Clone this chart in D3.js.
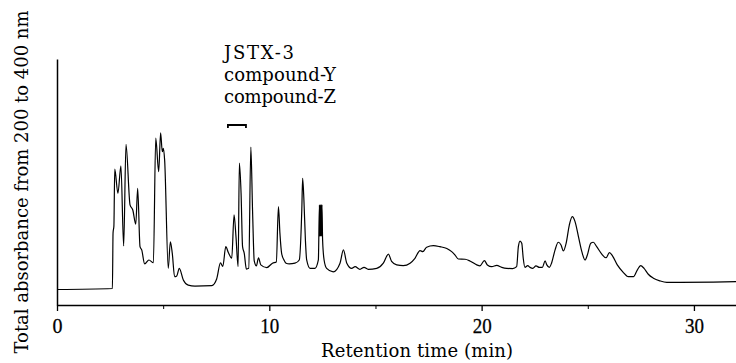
<!DOCTYPE html>
<html>
<head>
<meta charset="utf-8">
<script src="https://cdn.jsdelivr.net/npm/d3@7"></script>
<style>
  html, body { margin: 0; padding: 0; background: #fff; }
  svg { display: block; }
</style>
</head>
<body>
<svg id="chart" width="736" height="363"></svg>
<script>
// Retention time (min)
const times = [
  0, 2.61, 2.64, 2.68, 2.72, 2.87, 3.01, 3.14, 3.25, 3.44, 3.57, 3.71, 3.80, 3.91, 3.99,
  4.13, 4.33, 4.54, 4.65, 4.79, 4.88, 4.96, 5.01, 5.07, 5.24, 5.34, 5.43, 5.54, 5.64, 5.76,
  5.95, 6.18, 6.50, 7.29, 7.52, 7.70, 7.81, 7.95, 8.07, 8.23, 8.34, 8.43, 8.53, 8.59, 8.67,
  8.74, 8.82, 8.92, 9.03, 9.13, 9.21, 9.29, 9.39, 9.49, 9.60, 9.88, 10.15, 10.33, 10.43, 10.50,
  10.58, 10.69, 10.79, 10.94, 11.21, 11.41, 11.53, 11.57, 11.63, 11.70, 11.76, 11.92, 12.15, 12.31, 12.36,
  12.38, 12.40, 12.42, 12.44, 12.46, 12.48, 12.51, 12.58, 12.70, 13.01, 13.33, 13.49, 13.65, 13.88, 14.04,
  14.27, 14.46, 14.66,
  15.06, 15.37, 15.61, 15.76, 16.00, 16.31, 16.63, 16.86, 17.10, 17.23, 17.41, 17.73, 18.04, 18.36, 18.59,
  18.75, 18.90, 19.22, 19.45, 19.77, 19.92, 20.13, 20.27, 20.48, 20.71, 20.95, 21.18, 21.46, 21.65, 21.73,
  21.81, 21.89, 21.96, 22.04, 22.17, 22.28, 22.41, 22.56, 22.72, 22.86, 22.99, 23.07, 23.19, 23.30, 23.46,
  23.61, 23.74, 23.85, 23.98, 24.13, 24.27, 24.40, 24.56, 24.72, 24.87, 24.98, 25.14, 25.26, 25.42, 25.66,
  25.86, 26.02, 26.17, 26.39, 26.65, 26.91, 27.15, 27.33, 27.49, 27.65, 27.85, 28.09, 28.40, 28.72, 29.35,
  30.91, 32.0
];
// Total absorbance (arbitrary units)
const absorbance = [
  6.3, 6.7, 29.3, 32.1, 55.2, 45.4, 56.6, 24.0, 65.3, 40.7, 38.6, 32.9, 47.4, 23.7, 22.4,
  16.7, 18.3, 17.2, 67.8, 54.2, 70.0, 62.3, 63.7, 58.9, 14.9, 25.7, 21.0, 11.5, 11.8, 14.9,
  10.2, 8.1, 7.7, 7.9, 10.6, 17.1, 15.7, 23.7, 21.3, 19.0, 36.6, 27.8, 15.6, 57.7, 45.4,
  23.7, 21.0, 14.6, 14.9, 64.2, 38.6, 17.9, 15.9, 19.2, 16.3, 15.2, 17.0, 17.5, 40.0, 29.1,
  21.0, 18.3, 17.0, 16.7, 17.0, 18.3, 38.6, 51.5, 42.7, 26.4, 18.3, 14.9, 14.9, 18.3, 40.7,
  28.0, 40.7, 28.0, 40.7, 28.0, 40.7, 26.4, 18.3, 14.9, 13.5, 17.0, 22.4, 17.0, 14.9, 15.6,
  14.5, 15.3, 14.5,
  14.9, 17.0, 20.7, 17.7, 16.3, 16.0, 17.0, 19.0, 22.1, 21.7, 23.5, 24.1, 23.7, 23.0, 21.7,
  20.3, 18.7, 18.6, 17.9, 16.3, 15.9, 18.0, 16.3, 15.6, 16.1, 15.3, 14.9, 14.8, 15.6, 23.7,
  26.0, 25.1, 19.0, 15.3, 16.0, 15.3, 14.9, 15.9, 15.3, 15.3, 17.9, 16.3, 15.3, 17.2, 22.4,
  25.5, 24.4, 22.0, 25.1, 32.5, 35.9, 33.9, 27.8, 21.7, 18.3, 20.3, 25.1, 25.5, 23.7, 20.7,
  19.2, 21.3, 19.9, 16.3, 13.5, 11.5, 11.5, 14.2, 16.0, 14.9, 12.5, 10.9, 9.8, 9.2, 9.2,
  9.3, 9.5
];
const majorTicks = [0, 10, 20, 30];
const minorTicks = [5, 15, 25];
const xTitle = "Retention time (min)";
const yTitle = "Total absorbance from 200 to 400 nm";
const annotationLines = ["JSTX-3", "compound-Y", "compound-Z"];
const annotationRange = [8.05, 8.9]; // min, bracket span

const svg = d3.select("#chart");
const x = d3.scaleLinear().domain([0, 32]).range([57, 736.4]);
const y = d3.scaleLinear().domain([0, 100]).range([305, 59]);

const serif = "'DejaVu Serif', 'Liberation Serif', serif";

// x axis (major ticks with labels)
const xAxis = svg.append("g")
  .attr("transform", `translate(0,${y(0)})`)
  .call(d3.axisBottom(x).tickValues(majorTicks).tickSize(6).tickSizeOuter(0).tickPadding(4).tickFormat(d3.format("d")));
xAxis.select(".domain").attr("stroke", "#000").attr("stroke-width", 1.5);
xAxis.selectAll(".tick line").attr("stroke", "#000").attr("stroke-width", 1.3);
xAxis.selectAll(".tick text")
  .attr("font-family", "'Liberation Serif', serif")
  .attr("font-size", 22)
  .attr("fill", "#000")
  .attr("stroke", "#000")
  .attr("stroke-width", 0.3)
  .attr("y", 28)
  .attr("dy", 0)
  .each(function(d) {
    const s = String(d);
    d3.select(this).attr("textLength", s.length === 1 ? 10 : 19).attr("lengthAdjust", "spacingAndGlyphs");
  });

// minor ticks
const xMinor = svg.append("g")
  .attr("transform", `translate(0,${y(0)})`)
  .call(d3.axisBottom(x).tickValues(minorTicks).tickSize(4).tickSizeOuter(0).tickFormat(""));
xMinor.select(".domain").remove();
xMinor.selectAll(".tick line").attr("stroke", "#000").attr("stroke-width", 1);

// y axis (no ticks)
const yAxis = svg.append("g")
  .attr("transform", `translate(${x(0)},0)`)
  .call(d3.axisLeft(y).tickValues([]).tickSizeOuter(0));
yAxis.select(".domain").attr("stroke", "#000").attr("stroke-width", 1.5);

// trace
const data = times.map((t, i) => ({ t, a: absorbance[i] }));
const line = d3.line()
  .x(d => x(d.t))
  .y(d => y(d.a))
  .curve(d3.curveMonotoneX);
svg.append("path")
  .datum(data)
  .attr("fill", "none")
  .attr("stroke", "#000")
  .attr("stroke-width", 1.2)
  .attr("stroke-linejoin", "round")
  .attr("d", line);

// axis titles
svg.append("text")
  .attr("x", 417)
  .attr("y", 357)
  .attr("text-anchor", "middle")
  .attr("font-family", serif)
  .attr("font-size", 18)
  .attr("textLength", 192)
  .attr("lengthAdjust", "spacing")
  .text(xTitle);

svg.append("text")
  .attr("transform", "translate(28,182) rotate(-90)")
  .attr("text-anchor", "middle")
  .attr("font-family", serif)
  .attr("font-size", 18)
  .attr("textLength", 343)
  .attr("lengthAdjust", "spacing")
  .text(yTitle);

// annotation
const annWidths = [70, 112, 112];
const annBase = [59, 81, 103];
annotationLines.forEach((s, i) => {
  svg.append("text")
    .attr("x", 224)
    .attr("y", annBase[i])
    .attr("font-family", serif)
    .attr("font-size", 18)
    .attr("textLength", annWidths[i])
    .attr("lengthAdjust", "spacing")
    .text(s);
});
const bx0 = x(annotationRange[0]), bx1 = x(annotationRange[1]), by = 125;
svg.append("path")
  .attr("d", `M${bx0},${by + 3}V${by}H${bx1}V${by + 3}`)
  .attr("fill", "none")
  .attr("stroke", "#000")
  .attr("stroke-width", 1.8);
</script>
</body>
</html>
